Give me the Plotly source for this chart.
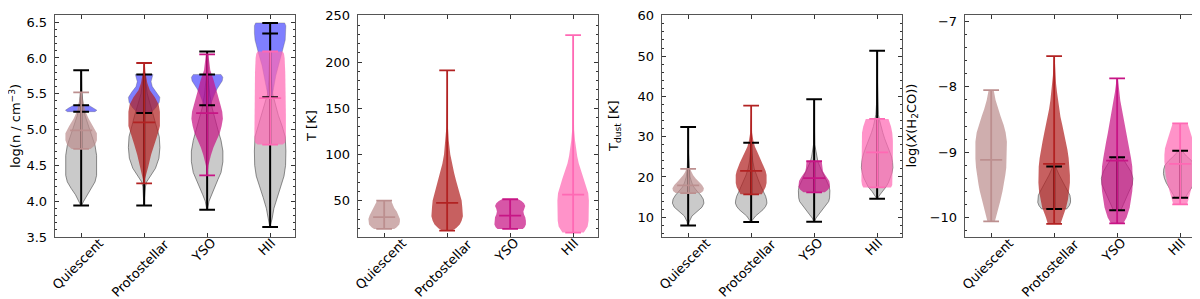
import plotly.graph_objects as go

CATEGORIES = ["Quiescent", "Protostellar", "YSO", "HII"]
POSITIONS = [1, 2, 3, 4]
COLORS = {"Quiescent": (188, 143, 143), "Protostellar": (178, 34, 34),
          "YSO": (199, 21, 133), "HII": (255, 105, 180)}

# ---------------- Panel 1: log(n) ----------------
DENS_GREY = {
    "Quiescent": ([3.94, 4.0, 4.09, 4.18, 4.27, 4.36, 4.5, 4.64, 4.78, 4.92, 5.06, 5.2, 5.35, 5.55, 5.83],
                  [0.005, 0.04, 0.09, 0.16, 0.22, 0.245, 0.25, 0.245, 0.22, 0.17, 0.11, 0.06, 0.03, 0.01, 0.005]),
    "Protostellar": ([3.94, 4.1, 4.2, 4.27, 4.36, 4.46, 4.6, 4.75, 4.9, 5.05, 5.2, 5.35, 5.5, 5.77],
                     [0.005, 0.01, 0.02, 0.04, 0.11, 0.18, 0.235, 0.25, 0.24, 0.2, 0.15, 0.1, 0.05, 0.01]),
    "YSO": ([3.88, 4.0, 4.09, 4.2, 4.3, 4.4, 4.55, 4.7, 4.85, 5.0, 5.15, 5.3, 5.5, 5.77],
            [0.005, 0.03, 0.07, 0.12, 0.17, 0.22, 0.25, 0.25, 0.22, 0.17, 0.12, 0.08, 0.04, 0.01]),
    "HII": ([3.64, 3.75, 3.9, 4.05, 4.2, 4.35, 4.5, 4.7, 4.9, 5.05, 5.2, 5.35, 5.5, 5.7, 6.0, 6.48],
            [0.005, 0.03, 0.06, 0.11, 0.17, 0.22, 0.245, 0.25, 0.24, 0.19, 0.13, 0.08, 0.04, 0.02, 0.01, 0.005]),
}
DENS_BLUE = {
    "Quiescent": ([5.25, 5.27, 5.3, 5.34], [0.22, 0.25, 0.2, 0.12]),
    "Protostellar": ([5.23, 5.3, 5.38, 5.45, 5.52, 5.6, 5.67, 5.72, 5.77],
                     [0.1, 0.18, 0.24, 0.25, 0.2, 0.13, 0.11, 0.12, 0.14]),
    "YSO": ([5.34, 5.42, 5.5, 5.57, 5.63, 5.68, 5.73, 5.77],
            [0.05, 0.08, 0.12, 0.16, 0.2, 0.24, 0.25, 0.22]),
    "HII": ([5.45, 5.6, 5.75, 5.9, 6.05, 6.15, 6.25, 6.35, 6.45, 6.49],
            [0.03, 0.06, 0.09, 0.13, 0.18, 0.21, 0.24, 0.25, 0.25, 0.23]),
}
DENS_COLOR = {
    "Quiescent": ([4.73, 4.78, 4.85, 4.95, 5.05, 5.15, 5.25, 5.35, 5.45, 5.52],
                  [0.15, 0.22, 0.25, 0.25, 0.19, 0.12, 0.07, 0.04, 0.02, 0.01]),
    "Protostellar": ([4.25, 4.35, 4.5, 4.65, 4.8, 4.95, 5.05, 5.15, 5.25, 5.35, 5.45, 5.55, 5.65, 5.8, 5.93],
                     [0.005, 0.03, 0.07, 0.11, 0.16, 0.22, 0.25, 0.25, 0.25, 0.23, 0.17, 0.09, 0.05, 0.02, 0.01]),
    "YSO": ([4.36, 4.5, 4.64, 4.75, 4.85, 4.95, 5.05, 5.15, 5.25, 5.35, 5.47, 5.58, 5.7, 5.83, 5.95, 6.05],
            [0.005, 0.02, 0.06, 0.1, 0.15, 0.2, 0.23, 0.25, 0.24, 0.21, 0.18, 0.14, 0.1, 0.05, 0.03, 0.02]),
    "HII": ([4.79, 4.82, 4.9, 5.2, 5.5, 5.8, 6.0, 6.06, 6.09],
            [0.2, 0.24, 0.25, 0.25, 0.25, 0.24, 0.23, 0.22, 0.2]),
}
DENS_BLACK_CAPS = {"Quiescent": [3.94, 5.25, 5.34, 5.83], "Protostellar": [3.94, 5.23, 5.77],
                   "YSO": [3.88, 5.34, 5.77, 6.09], "HII": [3.64, 5.45, 6.34, 6.49]}
DENS_STATS = {"Quiescent": [4.73, 4.99, 5.52], "Protostellar": [4.25, 5.1, 5.93],
              "YSO": [4.36, 5.23, 6.05], "HII": [4.79, 5.44, 6.09]}

# ---------------- Panel 2: T [K] ----------------
TKIN_COLOR = {
    "Quiescent": ([19.2, 21, 24, 27, 30, 34, 38, 42, 46, 50],
                  [0.16, 0.2, 0.24, 0.25, 0.25, 0.23, 0.2, 0.16, 0.13, 0.11]),
    "Protostellar": ([17.5, 20, 24, 28, 33, 38, 43, 50, 58, 65, 72, 80, 90, 100, 115, 130, 160, 191],
                     [0.08, 0.14, 0.2, 0.23, 0.25, 0.25, 0.24, 0.23, 0.2, 0.17, 0.14, 0.11, 0.075, 0.05, 0.025, 0.012, 0.005, 0.003]),
    "YSO": ([19.2, 21, 24, 28, 32, 35, 38, 41, 44, 47, 49.5, 51.4],
            [0.2, 0.23, 0.25, 0.25, 0.24, 0.22, 0.21, 0.22, 0.24, 0.22, 0.18, 0.13]),
    "HII": ([15.3, 18, 22, 28, 35, 42, 50, 58, 66, 74, 82, 90, 98, 106, 115, 127, 145, 170, 200, 229.3],
            [0.17, 0.2, 0.23, 0.245, 0.25, 0.25, 0.25, 0.24, 0.21, 0.17, 0.13, 0.09, 0.065, 0.045, 0.03, 0.015, 0.01, 0.007, 0.005, 0.003]),
}
TKIN_STATS = {"Quiescent": [19.2, 32, 50], "Protostellar": [17.5, 47.5, 191],
              "YSO": [19.2, 33.6, 51.4], "HII": [15.3, 56.4, 229.3]}

# ---------------- Panel 3: T_dust [K] ----------------
TDUST_GREY = {
    "Quiescent": ([7.95, 9, 10.3, 11.5, 12.5, 13.5, 14.5, 15.5, 16.5, 17.5, 18.5, 20, 22, 26, 32.4],
                  [0.005, 0.02, 0.06, 0.14, 0.22, 0.25, 0.24, 0.2, 0.14, 0.09, 0.06, 0.03, 0.015, 0.005, 0.003]),
    "Protostellar": ([8.8, 9.5, 10.3, 11.1, 11.9, 12.7, 13.5, 14.3, 15.2, 16.2, 17.5, 19, 20.5, 22, 24, 26.5, 28.5],
                     [0.005, 0.03, 0.07, 0.13, 0.19, 0.23, 0.25, 0.245, 0.23, 0.2, 0.16, 0.12, 0.08, 0.05, 0.025, 0.01, 0.005]),
    "YSO": ([8.9, 9.8, 10.6, 11.5, 12.3, 13.1, 13.9, 14.8, 15.6, 16.6, 17.6, 18.6, 19.6, 20.6, 21.6, 22.6, 23.8, 25, 26.5, 28, 32, 39.3],
            [0.005, 0.03, 0.07, 0.11, 0.15, 0.19, 0.23, 0.245, 0.25, 0.25, 0.24, 0.21, 0.18, 0.15, 0.12, 0.09, 0.06, 0.04, 0.025, 0.01, 0.005, 0.003]),
    "HII": ([14.6, 15.5, 16.4, 17.5, 18.6, 19.7, 21, 22.3, 23.6, 25, 26.5, 28, 29.5, 31, 32.5, 34, 35.5, 38, 44, 51.3],
            [0.005, 0.04, 0.08, 0.14, 0.18, 0.21, 0.235, 0.25, 0.245, 0.23, 0.2, 0.16, 0.12, 0.09, 0.06, 0.04, 0.02, 0.01, 0.005, 0.003]),
}
TDUST_COLOR = {
    "Quiescent": ([16.0, 16.5, 17.2, 18.0, 18.8, 19.6, 20.4, 21.2, 22.0],
                  [0.2, 0.24, 0.25, 0.22, 0.17, 0.12, 0.08, 0.05, 0.03]),
    "Protostellar": ([15.7, 16.5, 17.5, 18.5, 19.5, 20.5, 21.5, 22.5, 23.5, 24.5, 25.5, 26.5, 27.5, 29, 31, 34, 37.7],
                     [0.17, 0.2, 0.23, 0.245, 0.25, 0.245, 0.23, 0.21, 0.18, 0.15, 0.12, 0.09, 0.06, 0.035, 0.015, 0.008, 0.005]),
    "YSO": ([16.2, 16.8, 17.5, 18.2, 19, 19.8, 20.6, 21.4, 22.2, 23, 23.9],
            [0.17, 0.22, 0.25, 0.25, 0.24, 0.21, 0.17, 0.14, 0.13, 0.125, 0.12]),
    "HII": ([17.4, 18, 19, 22, 26, 29, 31, 32.5, 33.6, 34.4],
            [0.22, 0.24, 0.25, 0.25, 0.25, 0.25, 0.24, 0.22, 0.2, 0.18]),
}
TDUST_BLACK_CAPS = {"Quiescent": [7.95, 32.4], "Protostellar": [8.8, 28.5],
                    "YSO": [8.9, 39.3], "HII": [14.6, 51.3]}
TDUST_STATS = {"Quiescent": [16.0, 17.9, 22.0], "Protostellar": [15.7, 21.5, 37.7],
               "YSO": [16.2, 19.7, 23.9], "HII": [17.4, 26.1, 34.4]}

# ---------------- Panel 4: log X(H2CO) ----------------
XH2CO_GREY = {
    "Protostellar": ([-9.87, -9.82, -9.77, -9.72, -9.66, -9.6, -9.53, -9.44, -9.35, -9.22],
                     [0.2, 0.24, 0.26, 0.26, 0.25, 0.22, 0.18, 0.13, 0.08, 0.02]),
    "YSO": ([-9.89, -9.8, -9.7, -9.6, -9.5, -9.4, -9.3, -9.2, -9.08],
            [0.06, 0.1, 0.14, 0.19, 0.24, 0.25, 0.22, 0.16, 0.08]),
    "HII": ([-9.7, -9.62, -9.55, -9.47, -9.4, -9.33, -9.26, -9.2, -9.13, -9.06, -8.98],
            [0.08, 0.13, 0.18, 0.22, 0.25, 0.265, 0.26, 0.24, 0.18, 0.1, 0.03]),
}
XH2CO_COLOR = {
    "Quiescent": ([-10.06, -9.95, -9.85, -9.75, -9.6, -9.5, -9.35, -9.24, -9.1, -8.99, -8.84, -8.7, -8.59, -8.45, -8.34, -8.2, -8.05],
                  [0.06, 0.09, 0.12, 0.145, 0.18, 0.2, 0.225, 0.24, 0.25, 0.25, 0.25, 0.23, 0.2, 0.15, 0.11, 0.07, 0.04]),
    "Protostellar": ([-10.1, -10.0, -9.85, -9.72, -9.6, -9.47, -9.35, -9.22, -9.09, -8.96, -8.84, -8.72, -8.59, -8.46, -8.34, -8.21, -8.08, -7.95, -7.83, -7.68, -7.53],
                     [0.1, 0.13, 0.19, 0.22, 0.24, 0.25, 0.25, 0.245, 0.23, 0.21, 0.185, 0.16, 0.13, 0.1, 0.08, 0.06, 0.045, 0.03, 0.02, 0.012, 0.008]),
    "YSO": ([-10.09, -10.0, -9.85, -9.72, -9.6, -9.47, -9.35, -9.22, -9.09, -8.96, -8.84, -8.72, -8.59, -8.46, -8.34, -8.21, -8.08, -7.97, -7.87],
            [0.1, 0.15, 0.2, 0.225, 0.24, 0.25, 0.25, 0.24, 0.22, 0.2, 0.175, 0.15, 0.125, 0.1, 0.075, 0.05, 0.035, 0.02, 0.012]),
    "HII": ([-9.8, -9.7, -9.55, -9.45, -9.35, -9.24, -9.14, -9.04, -8.94, -8.84, -8.74, -8.65, -8.56],
            [0.11, 0.14, 0.18, 0.21, 0.23, 0.245, 0.25, 0.25, 0.24, 0.21, 0.18, 0.15, 0.12]),
}
XH2CO_BLACK_CAPS = {"Protostellar": [-9.87, -9.22], "YSO": [-9.89, -9.08], "HII": [-9.7, -8.98]}
XH2CO_STATS = {"Quiescent": [-10.06, -9.12, -8.05], "Protostellar": [-10.1, -9.18, -7.53],
               "YSO": [-10.09, -9.13, -7.87], "HII": [-9.8, -9.18, -8.56]}

Y_TITLES = ["log(n / cm<sup>−3</sup>)", "T [K]", "T<sub>dust</sub> [K]", "log(<i>X</i>(H<sub>2</sub>CO))"]
Y_RANGES = [[3.5, 6.6], [10.5, 251], [5.1, 60.2], [-10.3, -6.9]]
Y_DTICK = [0.5, 50, 10, 1]
Y_MINOR = [0.1, 10, 2, 0.2]
Y_FORMAT = [".1f", "d", "d", "d"]

PANELS = [
    dict(grey=DENS_GREY, blue=DENS_BLUE, color=DENS_COLOR, black=DENS_BLACK_CAPS, stats=DENS_STATS),
    dict(grey={}, blue={}, color=TKIN_COLOR, black={}, stats=TKIN_STATS),
    dict(grey=TDUST_GREY, blue={}, color=TDUST_COLOR, black=TDUST_BLACK_CAPS, stats=TDUST_STATS),
    dict(grey=XH2CO_GREY, blue={}, color=XH2CO_COLOR, black=XH2CO_BLACK_CAPS, stats=XH2CO_STATS),
]

W, H = 1200, 299
PLOT_TOP, PLOT_BOTTOM = 5, 229
LEFTS = [46.7, 349.7, 653.7, 956.7]
PANEL_W = 240
X_RANGE = [0.58, 4.39]
CAP = 0.125
MED = 0.175
TITLE_X = [9, 309, 612, 909.5]
TITLE_SHIFT = [-2, -6, -6, -6]
LABEL_SHIFT = (-4, 4)
LABEL_LEN = {"Quiescent": 65, "Protostellar": 77, "YSO": 26, "HII": 17}  # approx text px length

FONT = "DejaVu Sans"


def outline(center, ys, hws):
    xs = [center - w for w in hws] + [center + w for w in reversed(hws)] + [center - hws[0]]
    yy = list(ys) + list(reversed(ys)) + [ys[0]]
    return xs, yy


def seg_lines(center, caps, medians=()):
    xs, ys = [center, center, None], [min(caps), max(caps), None]
    for c in caps:
        xs += [center - CAP, center + CAP, None]
        ys += [c, c, None]
    for m in medians:
        xs += [center - MED, center + MED, None]
        ys += [m, m, None]
    return xs, ys


fig = go.Figure()
for i, p in enumerate(PANELS):
    xa = "x" if i == 0 else f"x{i+1}"
    ya = "y" if i == 0 else f"y{i+1}"
    pos = dict(zip(CATEGORIES, POSITIONS))
    for cat, (ys, hws) in p["grey"].items():
        xs, yy = outline(pos[cat], ys, hws)
        fig.add_trace(go.Scatter(x=xs, y=yy, xaxis=xa, yaxis=ya, mode="lines", fill="toself",
                                 fillcolor="rgba(128,128,128,0.42)",
                                 line=dict(color="rgba(70,70,70,0.6)", width=1), hoverinfo="skip"))
    for cat, (ys, hws) in p["blue"].items():
        xs, yy = outline(pos[cat], ys, hws)
        fig.add_trace(go.Scatter(x=xs, y=yy, xaxis=xa, yaxis=ya, mode="lines", fill="toself",
                                 fillcolor="rgba(0,0,255,0.5)",
                                 line=dict(color="rgba(70,70,70,0.35)", width=0.8), hoverinfo="skip"))
    for cat, (ys, hws) in p["color"].items():
        r, g, b = COLORS[cat]
        xs, yy = outline(pos[cat], ys, hws)
        fig.add_trace(go.Scatter(x=xs, y=yy, xaxis=xa, yaxis=ya, mode="lines", fill="toself",
                                 fillcolor=f"rgba({r},{g},{b},0.72)",
                                 line=dict(width=0), hoverinfo="skip"))
    bx, by = [], []
    for cat, caps in p["black"].items():
        xs, ys = seg_lines(pos[cat], caps)
        bx += xs
        by += ys
    if bx:
        fig.add_trace(go.Scatter(x=bx, y=by, xaxis=xa, yaxis=ya, mode="lines",
                                 line=dict(color="black", width=2), hoverinfo="skip"))
    for cat, st in p["stats"].items():
        r, g, b = COLORS[cat]
        xs, ys = seg_lines(pos[cat], [st[0], st[2]], [st[1]])
        fig.add_trace(go.Scatter(x=xs, y=ys, xaxis=xa, yaxis=ya, mode="lines",
                                 line=dict(color=f"rgb({r},{g},{b})", width=1.8), hoverinfo="skip"))

layout = dict(width=W, height=H, showlegend=False, plot_bgcolor="white", paper_bgcolor="white",
              margin=dict(l=0, r=0, t=PLOT_TOP, b=H - PLOT_BOTTOM),
              font=dict(family=FONT, size=13, color="black"))
annotations = []
plot_h = PLOT_BOTTOM - PLOT_TOP
for i in range(4):
    xk = "xaxis" if i == 0 else f"xaxis{i+1}"
    yk = "yaxis" if i == 0 else f"yaxis{i+1}"
    xa = "x" if i == 0 else f"x{i+1}"
    ya = "y" if i == 0 else f"y{i+1}"
    d0 = LEFTS[i] / W
    d1 = (LEFTS[i] + PANEL_W) / W
    layout[xk] = dict(domain=[d0, d1], range=X_RANGE, anchor=ya, tickvals=POSITIONS,
                      showticklabels=False, ticks="inside", ticklen=4, tickcolor="#333",
                      showline=True, linecolor="#555", linewidth=1, mirror="ticks",
                      showgrid=False, zeroline=False, fixedrange=True)
    layout[yk] = dict(domain=[0, 1], range=Y_RANGES[i], anchor=xa, dtick=Y_DTICK[i],
                      tickformat=Y_FORMAT[i], ticklabeloverflow="allow",
                      ticks="inside", ticklen=4, tickcolor="#333",
                      minor=dict(dtick=Y_MINOR[i], ticks="inside", ticklen=2, tickcolor="#333"),
                      showline=True, linecolor="#555", linewidth=1, mirror="allticks",
                      showgrid=False, zeroline=False, ticklabelstandoff=4,
                      tickfont=dict(family=FONT, size=13, color="black"), fixedrange=True)
    annotations.append(dict(text=Y_TITLES[i], textangle=-90, xref="paper", yref="paper",
                            x=TITLE_X[i] / W, y=(PLOT_BOTTOM - 117) / plot_h, xanchor="center",
                            yanchor="middle", xshift=TITLE_SHIFT[i], showarrow=False,
                            font=dict(family=FONT, size=13, color="black")))
    for cat, pcat in zip(CATEGORIES, POSITIONS):
        cy = 232 + (LABEL_LEN[cat] + 15) * 0.3536
        annotations.append(dict(text=cat, textangle=-45, xref=xa, yref="paper", x=pcat,
                                y=(PLOT_BOTTOM - cy) / plot_h, xanchor="center", yanchor="middle",
                                xshift=LABEL_SHIFT[0], yshift=LABEL_SHIFT[1],
                                showarrow=False, font=dict(family=FONT, size=13, color="black")))
layout["annotations"] = annotations
fig.update_layout(**layout)
fig.write_html("out.html")
